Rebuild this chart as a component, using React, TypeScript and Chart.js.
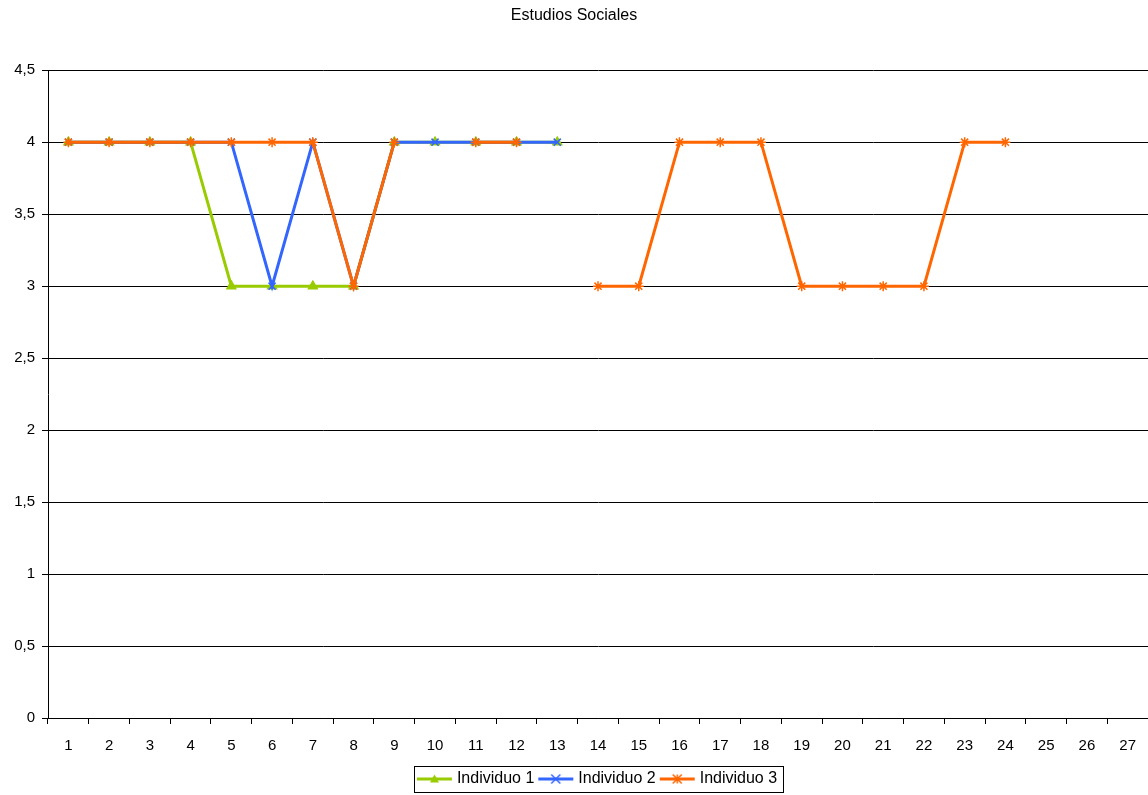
import React, { useEffect, useRef } from "react";
import { Chart, registerables } from "chart.js";

Chart.register(...registerables);

const chartTitle = "Estudios Sociales";
const categories = [
  "1", "2", "3", "4", "5", "6", "7", "8", "9", "10", "11", "12", "13", "14",
  "15", "16", "17", "18", "19", "20", "21", "22", "23", "24", "25", "26", "27",
];
const seriesNames = ["Individuo 1", "Individuo 2", "Individuo 3"];
const individuo1 = [4, 4, 4, 4, 3, 3, 3, 3, 4, 4, 4, 4, 4, null, null, null, null, null, null, null, null, null, null, null, null, null, null];
const individuo2 = [4, 4, 4, 4, 4, 3, 4, 3, 4, 4, 4, 4, 4, null, null, null, null, null, null, null, null, null, null, null, null, null, null];
const individuo3 = [4, 4, 4, 4, 4, 4, 4, 3, 4, null, 4, 4, null, 3, 3, 4, 4, 4, 3, 3, 3, 3, 4, 4, null, null, null];
const seriesColors = ["#99CC00", "#3366FF", "#FF6600"];
const seriesMarkers = ["triangle", "crossRot", "star"];
const yMin = 0;
const yMax = 4.5;
const yStep = 0.5;

const FONT = "'Liberation Sans', Arial, sans-serif";
const LEGEND_SHIFT = 5;

function makeLegendSample(color: string, marker: string): HTMLCanvasElement {
  const c = document.createElement("canvas");
  c.width = 44;
  c.height = 12;
  const ctx = c.getContext("2d")!;
  ctx.strokeStyle = color;
  ctx.fillStyle = color;
  ctx.lineWidth = 3;
  ctx.beginPath();
  ctx.moveTo(5, 6);
  ctx.lineTo(40, 6);
  ctx.stroke();
  ctx.lineWidth = 1.5;
  const cx = 22.5, cy = 6, r = 4.5;
  ctx.beginPath();
  if (marker === "triangle") {
    ctx.moveTo(cx, cy - r);
    ctx.lineTo(cx + r, cy + r * 0.8);
    ctx.lineTo(cx - r, cy + r * 0.8);
    ctx.closePath();
    ctx.fill();
  } else if (marker === "crossRot") {
    ctx.moveTo(cx - r, cy - r);
    ctx.lineTo(cx + r, cy + r);
    ctx.moveTo(cx + r, cy - r);
    ctx.lineTo(cx - r, cy + r);
    ctx.stroke();
  } else {
    ctx.moveTo(cx - r, cy - r);
    ctx.lineTo(cx + r, cy + r);
    ctx.moveTo(cx + r, cy - r);
    ctx.lineTo(cx - r, cy + r);
    ctx.moveTo(cx, cy - r);
    ctx.lineTo(cx, cy + r);
    ctx.stroke();
  }
  return c;
}

const legendPlugin = {
  id: "legendShiftBorder",
  afterLayout(chart: any) {
    const lg = chart.legend;
    if (!lg) return;
    lg.top += LEGEND_SHIFT;
    lg.bottom += LEGEND_SHIFT;
  },
  afterDraw(chart: any) {
    const legend = chart.legend;
    if (!legend || !legend.legendHitBoxes || !legend.legendHitBoxes.length) return;
    const boxes = legend.legendHitBoxes;
    let left = Infinity, right = -Infinity, top = Infinity, bottom = -Infinity;
    for (const b of boxes) {
      left = Math.min(left, b.left);
      right = Math.max(right, b.left + b.width);
      top = Math.min(top, b.top);
      bottom = Math.max(bottom, b.top + b.height);
    }
    const cy = (top + bottom) / 2;
    const ctx = chart.ctx;
    ctx.save();
    ctx.strokeStyle = "#000";
    ctx.lineWidth = 1;
    ctx.strokeRect(Math.round(left - 5) + 0.5, Math.round(cy - 13) + 0.5, Math.round(right - left + 11), 26);
    ctx.restore();
  },
};

export default function App() {
  const canvasRef = useRef<HTMLCanvasElement | null>(null);

  useEffect(() => {
    if (!canvasRef.current) return;
    const allData = [individuo1, individuo2, individuo3];
    const samples = seriesColors.map((c, i) => makeLegendSample(c, seriesMarkers[i]));
    const chart = new Chart(canvasRef.current, {
      type: "line",
      data: {
        labels: categories,
        datasets: seriesNames.map((name, i) => ({
          label: name,
          data: allData[i],
          order: seriesNames.length - i,
          borderColor: seriesColors[i],
          backgroundColor: seriesColors[i],
          borderWidth: 3,
          pointStyle: seriesMarkers[i] as any,
          pointRadius: 5,
          pointBorderWidth: 1.5,
          pointBorderColor: seriesColors[i],
          pointBackgroundColor: seriesColors[i],
          tension: 0,
          spanGaps: false,
          fill: false,
        })),
      },
      options: {
        responsive: false,
        animation: false,
        layout: { autoPadding: false, padding: { left: 0, right: 0, top: 0, bottom: 3 } },
        plugins: {
          title: {
            display: true,
            text: chartTitle,
            color: "#000",
            font: { family: FONT, size: 16, weight: "normal" },
            padding: { top: 6, bottom: 45 },
          },
          legend: {
            position: "bottom",
            fullSize: false,
            labels: {
              color: "#000",
              font: { family: FONT, size: 16 },
              usePointStyle: true,
              pointStyleWidth: 30,
              padding: 6,
              generateLabels: () =>
                seriesNames.map((name, i) => ({
                  text: name,
                  pointStyle: samples[i] as any,
                  fillStyle: seriesColors[i],
                  strokeStyle: seriesColors[i],
                  lineWidth: 0,
                  hidden: false,
                  datasetIndex: i,
                })),
            },
          },
          tooltip: { enabled: false },
        },
        scales: {
          x: {
            type: "category",
            offset: true,
            grid: {
              offset: true,
              drawOnChartArea: false,
              drawTicks: true,
              tickLength: 6,
              color: "#000",
            },
            border: { display: true, color: "#000", width: 1 },
            ticks: {
              color: "#000",
              font: { family: FONT, size: 15 },
              padding: 13,
              maxRotation: 0,
              autoSkip: false,
            },
            afterFit: (scale: any) => {
              scale.height = 42;
              scale.paddingLeft = 0;
              scale.paddingRight = 0;
            },
          },
          y: {
            min: yMin,
            max: yMax,
            grid: {
              color: "#000",
              lineWidth: 1,
              drawTicks: true,
              tickLength: 6,
            },
            border: { display: true, color: "#000", width: 1 },
            ticks: {
              stepSize: yStep,
              color: "#000",
              font: { family: FONT, size: 15 },
              padding: 7,
              callback: (v: any) => String(v).replace(".", ","),
            },
            afterFit: (scale: any) => {
              scale.width = 48;
            },
          },
        },
      },
      plugins: [legendPlugin],
    });
    return () => chart.destroy();
  }, []);

  return (
    <div style={{ position: "fixed", left: 0, top: 0, width: 1148, height: 795, background: "#fff" }}>
      <canvas ref={canvasRef} width={1148} height={795} style={{ display: "block" }} />
    </div>
  );
}
